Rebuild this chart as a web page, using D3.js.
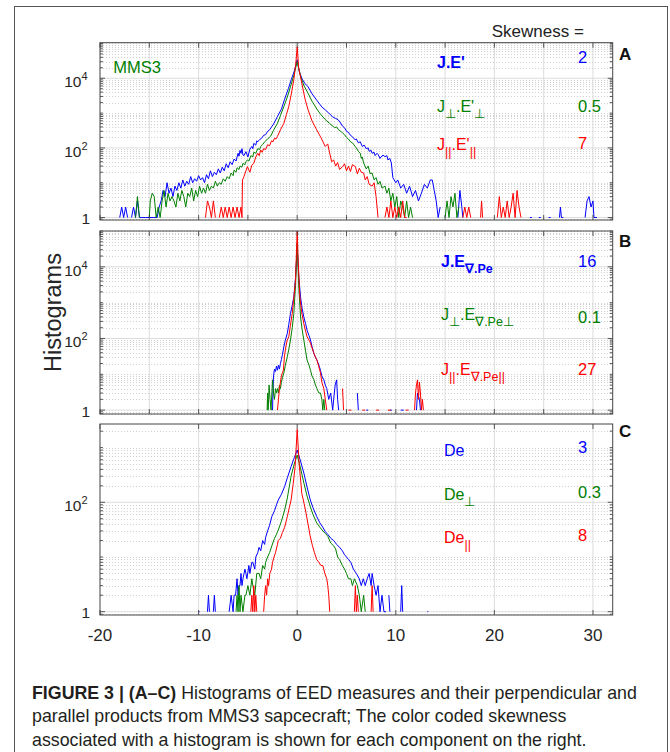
<!DOCTYPE html>
<html>
<head>
<meta charset="utf-8">
<script src="https://cdn.jsdelivr.net/npm/d3@7"></script>
<style>
  body { margin: 0; background: #fff; }
  svg { display: block; font-family: "Liberation Sans", Arial, Helvetica, sans-serif; }
</style>
</head>
<body>
<svg id="chart" width="670" height="752"></svg>
<script>
// @ Data: histogram counts, as [value, count] (0 = empty bin)
const jeA = [[-18.0,1],[-17.8,2],[-17.6,1],[-17.4,2],[-17.2,1],[-17.0,0],[-16.8,1],[-16.6,2],[-16.4,1],[-16.2,3],[-16.0,1],[-15.8,1],[-15.4,1],[-15.0,1],[-14.6,1],[-14.2,1],[-14.0,2],[-13.8,3],[-13.6,6],[-13.4,4],[-13.2,10],[-13.0,5],[-12.8,7],[-12.6,4],[-12.4,8],[-12.2,6],[-12.0,10],[-11.8,7],[-11.6,12],[-11.4,8],[-11.2,11],[-11.0,9],[-10.8,15],[-10.6,10],[-10.4,13],[-10.2,11],[-10.0,16],[-9.8,12],[-9.6,14],[-9.4,10],[-9.2,17],[-9.0,13],[-8.8,22],[-8.6,15],[-8.4,20],[-8.2,17],[-8.0,25],[-7.8,19],[-7.6,28],[-7.4,22],[-7.2,35],[-7.0,27],[-6.8,40],[-6.6,33],[-6.4,48],[-6.2,42],[-6.0,70],[-5.9,58],[-5.8,85],[-5.7,70],[-5.6,95],[-5.5,62],[-5.4,60],[-5.2,78],[-5.0,55],[-4.8,92],[-4.6,110],[-4.5,95],[-4.4,135],[-4.2,120],[-4.1,160],[-4.0,150],[-3.8,175],[-3.6,190],[-3.4,230],[-3.2,240],[-3.0,300],[-2.8,330],[-2.6,400],[-2.4,480],[-2.0,800],[-1.6,1300],[-1.3,2400],[-0.9,5000],[-0.6,9100],[-0.3,16000],[0,34000],[0.2,16000],[0.5,9500],[0.8,7000],[1.1,5700],[1.5,3600],[2.0,2300],[2.5,1500],[2.85,1230],[3.2,1000],[3.6,780],[3.9,700],[4.14,650],[4.4,520],[4.6,420],[4.8,380],[5.0,300],[5.2,280],[5.4,230],[5.6,210],[5.88,170],[6.0,180],[6.2,140],[6.4,150],[6.6,110],[6.8,120],[7.0,95],[7.2,100],[7.3,80],[7.5,85],[7.6,70],[7.8,75],[7.9,60],[8.1,70],[8.2,65],[8.4,50],[8.5,55],[8.7,62],[8.9,56],[9.1,60],[9.2,45],[9.4,50],[9.55,37],[9.7,14],[10.0,10],[10.2,12],[10.5,7],[10.8,9],[11.1,5],[11.4,8],[11.7,4],[12.0,6],[12.3,3],[12.6,5],[12.9,9],[13.2,7],[13.5,12],[13.7,12],[13.9,6],[14.1,3],[14.3,1],[14.5,2],[14.7,0],[16.2,0],[16.3,1],[16.5,6],[16.7,2],[16.8,1],[17.0,0],[23.6,1],[23.8,1],[24.0,0],[24.5,1],[24.7,1],[24.9,0],[25.5,1],[25.7,1],[25.9,0],[26.6,1],[26.7,2],[26.8,1],[27.0,1],[27.2,0],[29.2,1],[29.4,3],[29.6,4],[29.8,2],[30.0,3],[30.1,1],[30.4,1]];
const jePerpA = [[-16.4,1],[-16.2,4],[-16.0,1],[-15.8,0],[-15.2,0],[-15.0,1],[-14.9,3],[-14.7,5],[-14.5,4],[-14.3,1],[-14.1,2],[-13.9,1],[-13.7,3],[-13.5,6],[-13.3,2],[-13.1,5],[-12.9,3],[-12.7,4],[-12.5,3],[-12.3,2],[-12.1,5],[-11.9,3],[-11.7,6],[-11.5,4],[-11.3,2],[-11.1,5],[-10.9,4],[-10.7,7],[-10.5,3],[-10.3,6],[-10.1,4],[-9.9,8],[-9.7,5],[-9.5,7],[-9.3,5],[-9.1,9],[-8.9,6],[-8.7,8],[-8.5,7],[-8.3,11],[-8.1,8],[-7.9,10],[-7.7,9],[-7.5,13],[-7.3,11],[-7.1,15],[-6.9,13],[-6.7,19],[-6.5,16],[-6.4,23],[-6.2,20],[-6.1,27],[-5.9,24],[-5.8,30],[-5.6,28],[-5.5,36],[-5.3,33],[-5.2,40],[-5.05,45],[-4.9,42],[-4.7,60],[-4.5,55],[-4.4,75],[-4.2,70],[-4.0,95],[-3.8,90],[-3.7,110],[-3.5,125],[-3.3,150],[-3.0,180],[-2.7,215],[-2.4,320],[-2.0,510],[-1.7,850],[-1.35,1550],[-1.0,2900],[-0.68,5700],[-0.35,12000],[0,30000],[0.35,11000],[0.7,6000],[1.1,3700],[1.5,2200],[2.0,1300],[2.4,900],[2.85,650],[3.3,500],[3.8,380],[4.0,400],[4.2,330],[4.4,300],[4.6,270],[4.8,240],[5.0,200],[5.2,180],[5.4,150],[5.6,140],[5.88,110],[6.0,100],[6.2,80],[6.4,70],[6.5,50],[6.6,55],[6.74,37],[7.0,25],[7.2,30],[7.4,18],[7.6,19],[7.8,12],[8.0,14],[8.2,9],[8.4,11],[8.6,7],[8.9,8],[9.1,5],[9.3,7],[9.5,3],[9.7,5],[9.9,2],[10.1,4],[10.3,1],[10.5,3],[10.7,2],[10.9,1],[11.1,3],[11.3,1],[11.5,2],[11.7,1],[11.9,0],[14.8,0],[15.0,1],[15.2,3],[15.4,1],[15.6,4],[15.8,2],[16.0,5],[16.2,1],[16.4,2],[16.6,0]];
const jeParA = [[-9.3,1],[-9.1,3],[-8.9,2],[-8.7,1],[-8.5,3],[-8.3,1],[-8.1,0],[-7.9,1],[-7.7,2],[-7.5,1],[-7.3,2],[-7.1,1],[-6.9,2],[-6.7,1],[-6.5,2],[-6.3,1],[-6.1,2],[-5.9,1],[-5.7,2],[-5.6,1],[-5.55,12],[-5.4,15],[-5.2,22],[-5.05,29],[-4.8,20],[-4.6,32],[-4.4,36],[-4.2,55],[-4.0,70],[-3.85,60],[-3.7,87],[-3.55,75],[-3.4,95],[-3.2,90],[-3.0,123],[-2.8,115],[-2.6,160],[-2.45,150],[-2.3,190],[-2.15,180],[-2.0,215],[-1.7,330],[-1.35,510],[-1.1,900],[-0.85,1550],[-0.6,3500],[-0.34,9100],[-0.15,25000],[0,80000],[0.15,20000],[0.47,7200],[0.8,2500],[1.11,1230],[1.5,600],[1.98,330],[2.4,200],[2.85,110],[3.1,130],[3.3,70],[3.5,40],[3.7,45],[3.9,30],[4.1,38],[4.3,24],[4.6,29],[4.8,35],[5.0,22],[5.2,30],[5.4,21],[5.6,33],[5.9,29],[6.1,18],[6.3,26],[6.5,20],[6.74,19],[6.9,12],[7.1,15],[7.3,9],[7.6,8],[7.8,10],[8.0,4],[8.2,1],[8.4,0],[8.9,1],[9.1,2],[9.3,1],[9.5,3],[9.7,1],[9.9,2],[10.1,1],[10.3,2],[10.5,1],[10.7,3],[10.9,1],[11.1,1],[11.3,0],[16.8,1],[17.0,2],[17.2,1],[17.4,2],[17.6,1],[17.8,0],[18.4,0],[18.6,1],[18.7,3],[18.8,1],[19.0,0],[20.2,0],[20.3,1],[20.5,4],[20.7,1],[20.9,2],[21.1,1],[21.3,3],[21.5,1],[21.7,2],[21.9,5],[22.1,1],[22.3,6],[22.5,2],[22.7,1],[22.8,0]];

const jeB = [[-2.5,1],[-2.45,4],[-2.4,9],[-2.3,14],[-2.2,12],[-2.1,17],[-2.0,13],[-1.9,18],[-1.8,14],[-1.7,20],[-1.6,26],[-1.5,35],[-1.35,59],[-1.2,90],[-1.0,140],[-0.85,250],[-0.68,500],[-0.5,850],[-0.34,1450],[-0.17,5000],[0,36000],[0.17,5000],[0.34,1450],[0.5,700],[0.67,400],[0.85,260],[1.0,170],[1.2,120],[1.35,91],[1.5,60],[1.7,38],[1.85,30],[2.0,25],[2.2,18],[2.36,13],[2.5,9],[2.7,7],[2.85,5],[3.0,4],[3.2,2],[3.4,3],[3.6,1],[3.7,2],[3.85,5],[4.0,7],[4.1,2],[4.2,1],[4.4,0],[6.0,0],[6.1,3],[6.2,1],[6.3,0],[7.0,1],[7.2,1],[7.3,0],[9.4,1],[9.6,1],[9.7,0],[10.5,1],[10.8,1],[10.9,0],[12.0,0],[12.1,1],[12.2,3],[12.4,2],[12.5,1],[12.7,0]];
const jePerpB = [[-3.05,1],[-3.0,3],[-2.95,1],[-2.9,2],[-2.85,5],[-2.75,2],[-2.65,1],[-2.55,4],[-2.5,7],[-2.4,3],[-2.3,2],[-2.2,4],[-2.1,3],[-2.0,4],[-1.9,3],[-1.8,5],[-1.7,4],[-1.6,6],[-1.5,8],[-1.35,11],[-1.2,18],[-1.0,31],[-0.85,50],[-0.68,91],[-0.5,200],[-0.34,500],[-0.17,3000],[0,46000],[0.17,2500],[0.34,400],[0.5,180],[0.67,91],[0.85,45],[1.0,25],[1.2,18],[1.35,13],[1.5,9],[1.7,7],[1.85,5],[2.0,4],[2.2,3],[2.36,3],[2.5,2],[2.6,1],[2.7,2],[2.8,1],[2.9,0]];
const jeParB = [[-2.0,1],[-1.9,2],[-1.8,4],[-1.7,6],[-1.6,9],[-1.5,11],[-1.4,13],[-1.3,30],[-1.2,48],[-1.1,70],[-1.0,91],[-0.85,112],[-0.7,220],[-0.5,500],[-0.35,1300],[-0.17,4300],[0,110000],[0.1,15000],[0.27,1450],[0.45,550],[0.67,260],[0.85,160],[1.0,112],[1.2,90],[1.35,74],[1.5,55],[1.7,38],[1.85,30],[2.0,25],[2.2,16],[2.36,11],[2.5,6],[2.7,4],[2.85,2],[3.0,1],[3.2,0],[4.5,0],[4.6,4],[4.7,1],[4.8,0],[5.2,1],[5.5,1],[5.6,0],[6.6,1],[6.9,1],[7.0,0],[8.0,1],[8.3,1],[8.4,0],[9.2,1],[9.5,1],[9.6,0],[11.0,1],[11.3,1],[11.4,0],[11.9,1],[12.0,3],[12.1,5],[12.2,7],[12.3,2],[12.4,6],[12.5,3],[12.6,1],[12.7,2],[12.8,1]];

const deC = [[-10.0,1],[-9.9,1],[-9.8,0],[-9.2,0],[-9.1,1],[-9.0,2],[-8.9,1],[-8.8,0],[-8.5,1],[-8.4,2],[-8.3,1],[-8.2,0],[-7.0,0],[-6.9,1],[-6.7,2],[-6.5,1],[-6.4,2],[-6.25,2],[-6.1,4],[-6.0,2],[-5.9,3],[-5.8,3],[-5.7,5],[-5.6,3],[-5.5,4],[-5.3,6],[-5.2,5],[-5.1,4],[-4.9,7],[-4.8,5],[-4.6,8],[-4.5,8],[-4.3,6],[-4.2,10],[-4.0,12],[-3.87,15],[-3.7,13],[-3.5,20],[-3.3,17],[-3.2,23],[-3.0,30],[-2.8,38],[-2.57,55],[-2.3,70],[-2.1,90],[-1.92,110],[-1.6,140],[-1.27,195],[-1.0,280],[-0.62,450],[-0.3,650],[0,900],[0.3,600],[0.68,340],[1.0,190],[1.33,110],[1.6,80],[1.98,55],[2.3,42],[2.6,35],[2.85,29],[3.1,26],[3.4,22],[3.7,20],[4.0,17],[4.3,15],[4.58,13],[4.8,11],[5.0,10],[5.2,9],[5.44,8],[5.7,6],[6.0,5],[6.3,4],[6.5,3],[6.7,4],[6.9,3],[7.1,4],[7.3,5],[7.5,3],[7.6,5],[7.8,3],[8.0,2],[8.2,3],[8.4,1],[8.6,2],[8.8,1],[9.0,1],[9.2,0],[9.3,2],[9.4,1],[9.5,0],[10.4,0],[10.5,1],[10.6,3],[10.7,1],[10.8,0],[13.1,0],[13.2,1],[13.3,1],[13.4,0]];
const dePerpC = [[-6.2,1],[-6.1,2],[-6.0,1],[-5.9,3],[-5.8,1],[-5.7,2],[-5.5,1],[-5.3,2],[-5.2,2],[-5.0,3],[-4.8,2],[-4.6,4],[-4.5,3],[-4.3,2],[-4.1,5],[-3.87,5],[-3.7,4],[-3.5,7],[-3.3,6],[-3.2,8],[-3.0,10],[-2.8,12],[-2.57,16],[-2.3,22],[-2.1,26],[-1.92,31],[-1.6,45],[-1.27,72],[-1.0,120],[-0.62,300],[-0.3,500],[0,730],[0.3,450],[0.68,224],[1.0,130],[1.33,83],[1.6,60],[1.98,42],[2.3,35],[2.6,30],[2.85,27],[3.1,24],[3.4,18],[3.7,16],[3.9,14],[4.1,10],[4.3,9],[4.58,7],[4.8,6],[5.0,5],[5.2,4],[5.44,4],[5.6,3],[5.8,4],[6.1,3],[6.3,2],[6.5,1],[6.74,2],[6.9,1],[7.0,0]];
const deParC = [[-4.7,1],[-4.6,2],[-4.5,1],[-4.4,3],[-4.3,1],[-4.2,2],[-4.1,1],[-4.0,0],[-3.5,0],[-3.4,1],[-3.3,2],[-3.2,3],[-3.1,2],[-3.0,4],[-2.9,3],[-2.78,5],[-2.6,6],[-2.5,8],[-2.35,10],[-2.2,12],[-2.0,17],[-1.92,20],[-1.7,22],[-1.5,28],[-1.27,35],[-1.0,55],[-0.8,80],[-0.62,110],[-0.4,220],[-0.21,450],[0,2150],[0.2,500],[0.47,145],[0.7,95],[0.9,63],[1.1,40],[1.3,25],[1.55,16],[1.75,12],[1.98,9],[2.2,8],[2.4,7],[2.6,7],[2.8,5],[3.0,4],[3.1,3],[3.2,2],[3.3,1],[3.4,0],[5.7,0],[5.8,1],[5.9,3],[6.0,1],[6.1,2],[6.2,1],[6.3,0],[7.4,0],[7.5,1],[7.6,3],[7.7,1],[7.8,0]];

// skewness per panel, in series order (total, perp, parallel)
const skewA = ["2", "0.5", "7"];
const skewB = ["16", "0.1", "27"];
const skewC = ["3", "0.3", "8"];

const xDomain = [-20, 32];
const xTicksFine = [-20, -15, -10, -5, 0, 5, 10, 15, 20, 25, 30];
const xTicksCoarse = [-20, -10, 0, 10, 20, 30];

const colors = ["#0000ff", "#008000", "#ff0000"];

// legend labels: parts, s = subscript
const labelsA = [
	[{ t: "J.E'" }],
	[{ t: "J" }, { t: "\u22A5", s: 1 }, { t: ".E'" }, { t: "\u22A5", s: 1 }],
	[{ t: "J" }, { t: "||", s: 1 }, { t: ".E'" }, { t: "||", s: 1 }],
];
const labelsB = [
	[{ t: "J.E" }, { t: "\u2207.Pe", s: 1 }],
	[{ t: "J" }, { t: "\u22A5", s: 1 }, { t: ".E" }, { t: "\u2207.Pe\u22A5", s: 1 }],
	[{ t: "J" }, { t: "||", s: 1 }, { t: ".E" }, { t: "\u2207.Pe||", s: 1 }],
];
const labelsC = [
	[{ t: "De" }],
	[{ t: "De" }, { t: "\u22A5", s: 1 }],
	[{ t: "De" }, { t: "||", s: 1 }],
];

// @ Layout
const panels = [
	{
		letter: "A", top: 42.7, bottom: 220, yDomain: [0.85, 1.05e5], yTicks: [1, 1e2, 1e4],
		xTicks: xTicksFine, series: [jeA, jePerpA, jeParA], labels: labelsA, skew: skewA,
		bold: true, labelX: 437, labelY: [67.7, 111.7, 150], skewY: [63.3, 111.7, 148.5], letterY: 60,
	},
	{
		letter: "B", top: 231, bottom: 414, yDomain: [0.78, 1e5], yTicks: [1, 1e2, 1e4],
		xTicks: xTicksFine, series: [jeB, jePerpB, jeParB], labels: labelsB, skew: skewB,
		bold: true, labelX: 441, labelY: [266.7, 320, 375], skewY: [266.7, 323.3, 375], letterY: 246.7,
	},
	{
		letter: "C", top: 424, bottom: 615, yDomain: [0.87, 2700], yTicks: [1, 1e2],
		xTicks: xTicksCoarse, series: [deC, dePerpC, deParC], labels: labelsC, skew: skewC,
		bold: false, labelX: 444, labelY: [456, 500, 543.3], skewY: [453.3, 498, 541], letterY: 437,
	},
];

const left = 100, right = 612.7;
const svg = d3.select("#chart");

// outer figure frame
svg.append("rect")
	.attr("x", 14.5).attr("y", 6.5)
	.attr("width", 653).attr("height", 760)
	.attr("fill", "none").attr("stroke", "#555").attr("stroke-width", 1);

const x = d3.scaleLinear().domain(xDomain).range([left, right]);

const defs = svg.append("defs");

panels.forEach((p, pi) => {
	const y = d3.scaleLog().domain(p.yDomain).range([p.bottom, p.top]);
	const g = svg.append("g");

	// minor grid (dotted) at 2..9 x 10^k and unlabeled decades
	const lo = Math.floor(Math.log10(p.yDomain[0]));
	const hi = Math.ceil(Math.log10(p.yDomain[1]));
	const minor = [];
	for (let k = lo; k <= hi; k++) {
		for (let m = 1; m <= 9; m++) {
			const v = m * Math.pow(10, k);
			if (v < p.yDomain[0] || v > p.yDomain[1]) continue;
			if (m === 1 && p.yTicks.includes(v)) continue;
			minor.push(v);
		}
	}
	g.selectAll(".minor").data(minor).enter().append("line")
		.attr("x1", left).attr("x2", right)
		.attr("y1", (d) => Math.round(y(d)) + 0.5).attr("y2", (d) => Math.round(y(d)) + 0.5)
		.attr("stroke", "#c4c4c4").attr("stroke-width", 0.8)
		.attr("stroke-dasharray", "1,2");

	// major grid
	g.selectAll(".hmaj").data(p.yTicks).enter().append("line")
		.attr("x1", left).attr("x2", right)
		.attr("y1", (d) => y(d)).attr("y2", (d) => y(d))
		.attr("stroke", "#dcdcdc").attr("stroke-width", 1);
	g.selectAll(".vmaj").data(p.xTicks.filter((d) => d > xDomain[0])).enter().append("line")
		.attr("x1", (d) => x(d)).attr("x2", (d) => x(d))
		.attr("y1", p.top).attr("y2", p.bottom)
		.attr("stroke", "#dcdcdc").attr("stroke-width", 1);

	// curves
	const clipId = "clip" + p.letter;
	defs.append("clipPath").attr("id", clipId)
		.append("rect").attr("x", left).attr("y", p.top)
		.attr("width", right - left).attr("height", p.bottom - p.top);

	const line = d3.line()
		.defined((d) => d[1] > 0)
		.x((d) => x(d[0]))
		.y((d) => y(d[1]));

	g.append("g").attr("clip-path", `url(#${clipId})`)
		.selectAll("path")
		.data(p.series)
		.enter()
		.append("path")
		.attr("d", (d) => line(d))
		.attr("fill", "none")
		.attr("stroke", (d, i) => colors[i])
		.attr("stroke-width", 1)
		.attr("stroke-linejoin", "round");

	// ticks (inward)
	const tickCol = "#333";
	minor.concat(p.yTicks).forEach((v) => {
		const len = p.yTicks.includes(v) ? 5 : 3;
		const yy = y(v);
		g.append("line").attr("x1", left).attr("x2", left + len).attr("y1", yy).attr("y2", yy)
			.attr("stroke", tickCol).attr("stroke-width", 0.8);
		g.append("line").attr("x1", right).attr("x2", right - len).attr("y1", yy).attr("y2", yy)
			.attr("stroke", tickCol).attr("stroke-width", 0.8);
	});
	p.xTicks.forEach((v) => {
		const xx = x(v);
		g.append("line").attr("x1", xx).attr("x2", xx).attr("y1", p.bottom).attr("y2", p.bottom - 5)
			.attr("stroke", tickCol).attr("stroke-width", 0.8);
		g.append("line").attr("x1", xx).attr("x2", xx).attr("y1", p.top).attr("y2", p.top + 5)
			.attr("stroke", tickCol).attr("stroke-width", 0.8);
	});

	// box
	g.append("rect")
		.attr("x", left).attr("y", p.top)
		.attr("width", right - left).attr("height", p.bottom - p.top)
		.attr("fill", "none").attr("stroke", "#444").attr("stroke-width", 1);

	// y tick labels
	p.yTicks.forEach((v) => {
		const e = Math.round(Math.log10(v));
		const t = g.append("text")
			.attr("x", 90).attr("text-anchor", "end")
			.attr("fill", "#262626").style("font-size", "15.5px");
		if (e === 0) {
			t.attr("y", y(v) + 6.5).text("1");
		} else {
			t.attr("x", 87.5).attr("y", y(v) + 9);
			t.append("tspan").text("10");
			t.append("tspan").attr("dy", -7).style("font-size", "11px").text(e);
		}
	});

	// x tick labels on bottom panel only
	if (pi === panels.length - 1) {
		g.selectAll(".xl").data(p.xTicks).enter().append("text")
			.attr("x", (d) => x(d)).attr("y", 640.7)
			.attr("text-anchor", "middle")
			.attr("fill", "#262626").style("font-size", "17px")
			.text((d) => d);
	}

	// legend labels and skewness values
	p.labels.forEach((parts, i) => {
		const t = g.append("text")
			.attr("x", p.labelX).attr("y", p.labelY[i])
			.attr("fill", colors[i])
			.style("font-size", "16px")
			.style("font-weight", i === 0 && p.bold ? "bold" : "normal");
		let sub = false;
		parts.forEach((part) => {
			const ts = t.append("tspan").text(part.t);
			if (part.s && !sub) { ts.attr("dy", 6).style("font-size", "12.5px"); sub = true; }
			else if (!part.s && sub) { ts.attr("dy", -6); sub = false; }
			else if (part.s) ts.style("font-size", "12.5px");
		});
		g.append("text")
			.attr("x", 578).attr("y", p.skewY[i])
			.attr("fill", colors[i])
			.style("font-size", "16.5px")
			.text(p.skew[i]);
	});

	// panel letter
	g.append("text")
		.attr("x", 619).attr("y", p.letterY)
		.style("font-size", "17px").style("font-weight", "bold")
		.attr("fill", "#111")
		.text(p.letter);
});

// panel A extras
svg.append("text").attr("x", 113.3).attr("y", 72.7)
	.attr("fill", "#008000").style("font-size", "16.5px").text("MMS3");
svg.append("text").attr("x", 491.7).attr("y", 36.5)
	.attr("fill", "#222").style("font-size", "17px").text("Skewness =");

// y label
svg.append("text")
	.attr("transform", "translate(61,312.5)rotate(-90)")
	.attr("text-anchor", "middle")
	.attr("fill", "#262626").style("font-size", "23.5px")
	.text("Histograms");

// @ Caption
const captionLines = [
	[{ t: "FIGURE 3 | (A\u2013C)", b: 1 }, { t: " Histograms of EED measures and their perpendicular and" }],
	[{ t: "parallel products from MMS3 sapcecraft; The color coded skewness" }],
	[{ t: "associated with a histogram is shown for each component on the right." }],
];
const captionY = [698.5, 722, 745.5];
captionLines.forEach((parts, i) => {
	const t = svg.append("text")
		.attr("x", 32).attr("y", captionY[i])
		.attr("fill", "#231f20").style("font-size", "17.8px");
	parts.forEach((part) => {
		t.append("tspan").text(part.t).style("font-weight", part.b ? "bold" : "normal");
	});
});
</script>
</body>
</html>
